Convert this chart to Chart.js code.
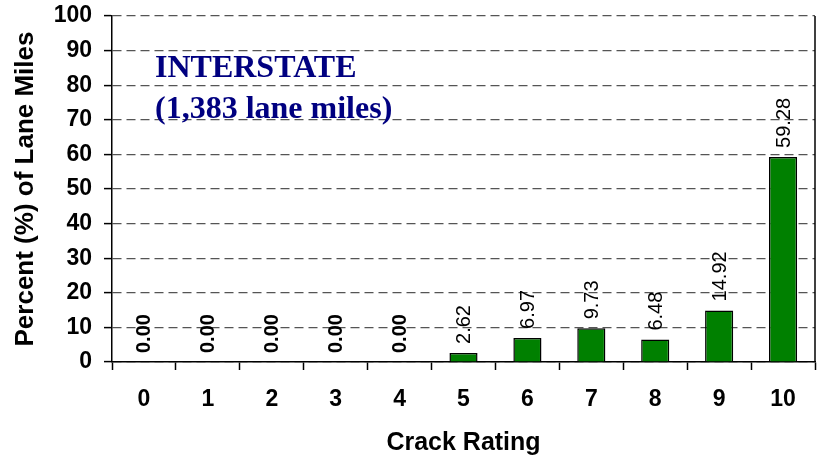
<!DOCTYPE html>
<html>
<head>
<meta charset="utf-8">
<script src="https://cdn.jsdelivr.net/npm/chart.js@4.4.1/dist/chart.umd.min.js"></script>
<style>
  html, body { margin: 0; padding: 0; background: #fff; }
  #wrap { width: 818px; height: 463px; }
</style>
</head>
<body>
<div id="wrap"><canvas id="chart"></canvas></div>
<script>
const ratings = ["0", "1", "2", "3", "4", "5", "6", "7", "8", "9", "10"]
const percentLaneMiles = [0, 0, 0, 0, 0, 2.62, 6.97, 9.73, 6.48, 14.92, 59.28]
const titleLines = ["INTERSTATE", "(1,383 lane miles)"]

const sans = "'Liberation Sans', Arial, sans-serif"
const serif = "'Liberation Serif', 'Times New Roman', serif"

// rotated value labels above each bar
const barLabels = {
  id: "barLabels",
  afterDatasetsDraw(chart) {
    const ctx = chart.ctx
    const meta = chart.getDatasetMeta(0)
    ctx.save()
    ctx.fillStyle = "#000"
    ctx.textAlign = "left"
    ctx.textBaseline = "middle"
    meta.data.forEach((bar, i) => {
      const v = percentLaneMiles[i]
      ctx.font = (v === 0 ? "bold " : "") + "20px " + sans
      ctx.save()
      ctx.translate(bar.x, bar.y - 9)
      ctx.rotate(-Math.PI / 2)
      ctx.fillText(v.toFixed(2), 0, 1)
      ctx.restore()
    })
    ctx.restore()
  }
}

// caption inside the plot and right-hand frame line
const caption = {
  id: "caption",
  afterDraw(chart) {
    const { ctx, chartArea } = chart
    ctx.save()
    ctx.fillStyle = "#000080"
    ctx.font = "bold 32px " + serif
    ctx.textAlign = "left"
    ctx.textBaseline = "alphabetic"
    ctx.fillText(titleLines[0], chartArea.left + 43, 77)
    ctx.fillText(titleLines[1], chartArea.left + 43, 118)

    ctx.strokeStyle = "#000"
    ctx.lineWidth = 1.5
    ctx.beginPath()
    ctx.moveTo(chartArea.right, chartArea.top)
    ctx.lineTo(chartArea.right, chartArea.bottom)
    ctx.stroke()
    ctx.restore()
  }
}

new Chart(document.getElementById("chart").getContext("2d"), {
  type: "bar",
  data: {
    labels: ratings,
    datasets: [{
      data: percentLaneMiles,
      backgroundColor: "#008000",
      borderColor: "#000",
      borderWidth: 1.5,
      borderSkipped: "bottom",
      barPercentage: 0.44,
      categoryPercentage: 1
    }]
  },
  options: {
    responsive: true,
    maintainAspectRatio: false,
    animation: false,
    layout: { autoPadding: false, padding: { left: 0, right: 3, top: 16, bottom: 0 } },
    plugins: {
      legend: { display: false },
      tooltip: { enabled: false }
    },
    scales: {
      x: {
        offset: true,
        grid: {
          offset: true,
          drawOnChartArea: false,
          tickLength: 8,
          tickColor: "#000",
          tickWidth: 1.5
        },
        border: { color: "#000", width: 1.5 },
        ticks: {
          color: "#000",
          padding: 16,
          maxRotation: 0,
          font: { family: sans, size: 23, weight: "bold" }
        },
        title: {
          display: true,
          text: "Crack Rating",
          color: "#000",
          padding: { top: 14, bottom: 5 },
          font: { family: sans, size: 25, weight: "bold" }
        },
        afterFit(scale) { scale.height = 101 }
      },
      y: {
        min: 0,
        max: 100,
        ticks: {
          stepSize: 10,
          color: "#000",
          padding: 12,
          font: { family: sans, size: 23, weight: "bold" }
        },
        grid: {
          color: "#555",
          lineWidth: 1.2,
          tickBorderDash: [],
          tickColor: "#000",
          tickWidth: 1.5,
          tickLength: 8
        },
        // in v4 border.dash drives the grid line dash
        border: { color: "#000", width: 1.5, dash: [9, 5] },
        title: {
          display: true,
          text: "Percent (%) of Lane Miles",
          color: "#000",
          padding: { top: 10, bottom: 8 },
          font: { family: sans, size: 26, weight: "bold" }
        },
        afterFit(scale) {
          // tick padding would otherwise push the plot top down
          scale.width = 112
          scale.paddingTop = 0
          scale.paddingBottom = 0
        }
      }
    }
  },
  plugins: [barLabels, caption]
})
</script>
</body>
</html>
